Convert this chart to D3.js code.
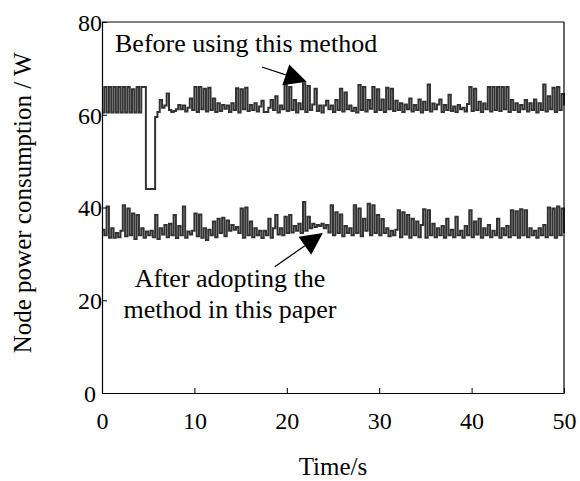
<!DOCTYPE html>
<html>
<head>
<meta charset="utf-8">
<script src="https://cdn.jsdelivr.net/npm/d3@7"></script>
<style>
  body { margin: 0; background: #fff; }
  svg text { font-family: "Liberation Serif", "Times New Roman", serif; fill: #000; }
</style>
</head>
<body>
<div class="chart"></div>
<script>
// sampling step of both series, seconds
var timeStep = 0.25;

// node power before using the method (W), one value per step from t = 0
var beforeValues = [
    60.5, 66, 60.5, 66, 60.5, 66, 60.5, 66, 60.5, 66,
    60.5, 66, 60.5, 65.5, 60.5, 66, 60.5, 66, 66, 44,
    44, 44, 44, 59.5, 60.6, 63.2, 61.5, 62, 64.6, 61,
    60.6, 60.8, 61.2, 62.1, 61.2, 62, 60.7, 61.5, 63.5, 61,
    66, 60.6, 66, 61.2, 65.6, 60.7, 65.8, 61, 63.5, 60.6,
    62.5, 60.8, 62.1, 61.3, 62, 60.6, 62.5, 61, 65.7, 60.5,
    65.5, 61.2, 65.8, 60.8, 62.1, 61, 62.5, 60.7, 61.8, 63,
    60.6, 60.6, 61.5, 63.2, 61, 64, 60.5, 62, 61.2, 66.5,
    60.8, 66, 61, 63.2, 60.5, 62.5, 61.2, 66.8, 60.6, 66.2,
    61, 62.2, 65.6, 60.8, 62, 60.5, 62, 63, 61.2, 62,
    60.6, 63.2, 61, 65.6, 60.7, 64.8, 61.2, 62, 60.8, 61.5,
    60.5, 66.4, 61, 66, 60.7, 63.2, 61.3, 66, 60.6, 65.5,
    61, 63.3, 60.6, 65.8, 61.2, 65.6, 60.8, 63, 61, 62.5,
    60.6, 62.2, 61.2, 63.5, 60.7, 62.1, 61, 63.3, 60.5, 62.8,
    61, 66.5, 60.7, 62.4, 61.2, 62.2, 63.3, 60.6, 62.1, 61,
    64.3, 60.8, 61.8, 60.6, 62.1, 61.2, 61.5, 60.7, 62.3, 66,
    60.8, 65.6, 61, 62.8, 60.6, 62.4, 61.2, 66, 60.7, 66,
    61, 66, 60.8, 66, 61.2, 66, 60.6, 63.2, 61, 62.5,
    60.6, 62.1, 61.2, 63.2, 60.7, 62.5, 61, 63.3, 60.5, 62.5,
    61, 66.5, 60.7, 64, 61.2, 65.8, 60.6, 66, 61, 64.5,
    62
];

// node power after adopting the method (W), same time base
var afterValues = [
    35.2, 34, 40.2, 33.5, 35.5, 33.5, 34.5, 33.6, 35, 40.5,
    33.8, 39.8, 34, 38.7, 33.2, 38.4, 34, 35.5, 33.5, 34.8,
    34, 35, 33.6, 38.4, 33.2, 35.5, 34.2, 36.2, 33.6, 36.5,
    34, 38.4, 33.4, 36, 34, 40.2, 33.5, 34.8, 34.2, 35,
    38.7, 33.8, 38.5, 33.5, 35.5, 33, 35.2, 34, 37, 33.6,
    37.6, 34.5, 37.8, 33.8, 37.2, 35, 36.2, 35.2, 35.8, 34.5,
    39.8, 33.5, 40, 34, 37, 33.6, 35.5, 34, 35, 33.4,
    35, 34, 37.6, 33.5, 35.5, 38.4, 34.2, 35.5, 34, 38,
    34.5, 38.4, 34.6, 36, 35, 36.5, 34.5, 41.2, 35, 38,
    35.5, 36.5, 35.8, 36.2, 36, 36.5, 35.5, 36.2, 34.6, 40.5,
    34, 39, 34.5, 38.5, 33.8, 36, 34.5, 35.5, 34, 40.5,
    34.5, 39.8, 33.8, 37.6, 35, 40.8, 34, 40.5, 34.5, 38.4,
    34, 37.5, 34.5, 35.5, 33.8, 35, 34, 35.2, 39.4, 33.6,
    39, 34.2, 38.4, 33.5, 37.6, 34, 37, 33.6, 36.2, 39.6,
    33.5, 39.4, 34, 36.5, 33.6, 35.5, 34, 36, 33.5, 37.6,
    34, 35.2, 33.6, 38, 34, 35, 33.5, 36, 34, 39.4,
    33.6, 37, 34.2, 37.6, 33.5, 35.5, 34, 36.2, 33.6, 35,
    34, 37.6, 33.5, 35.5, 34, 36, 33.6, 39.4, 34, 39.2,
    33.5, 39.6, 34, 39.4, 33.6, 35.5, 34, 35, 33.5, 35.5,
    34, 36.2, 33.6, 40, 34, 39.8, 33.5, 40.2, 34, 39.8,
    34.5
];

var xTicks = [0, 10, 20, 30, 40, 50];
var yTicks = [0, 20, 40, 60, 80];

var width = 580, height = 481;
var margin = {left: 102, right: 16, top: 22, bottom: 88};
var serif = "Liberation Serif, Times New Roman, serif";

var svg = d3.select(".chart").append("svg").attr("width", width).attr("height", height);

var x = d3.scaleLinear().domain([0, 50]).range([margin.left, width - margin.right]);
var y = d3.scaleLinear().domain([0, 80]).range([height - margin.bottom, margin.top]);

function toPoints(values) {
    return values.map(function (v, i) { return {t: i * timeStep, v: v}; });
}

var line = d3.line()
    .x(function (d) { return x(d.t); })
    .y(function (d) { return y(d.v); })
    .curve(d3.curveStepAfter);

svg.append("path").datum(toPoints(beforeValues)).attr("d", line)
    .attr("fill", "none").attr("stroke", "#333").attr("stroke-width", 2);
svg.append("path").datum(toPoints(afterValues)).attr("d", line)
    .attr("fill", "none").attr("stroke", "#333").attr("stroke-width", 2);

// axes, ticks pointing inwards
var xAxis = svg.append("g").attr("transform", "translate(0," + y(0) + ")")
    .call(d3.axisBottom(x).tickValues(xTicks).tickSizeInner(-5).tickSizeOuter(0).tickPadding(14));
var yAxis = svg.append("g").attr("transform", "translate(" + x(0) + ",0)")
    .call(d3.axisLeft(y).tickValues(yTicks).tickSizeInner(-5).tickSizeOuter(0).tickPadding(12));

[xAxis, yAxis].forEach(function (g) {
    g.attr("font-family", serif).attr("font-size", 24);
    g.select(".domain").attr("stroke", "#000").attr("stroke-width", 1.2);
    g.selectAll(".tick line").attr("stroke", "#000");
    g.selectAll(".tick text").attr("fill", "#000");
});
yAxis.selectAll(".tick text").attr("text-anchor", "middle").attr("dy", "0.35em");
xAxis.selectAll(".tick text").attr("dy", "0.9em");

// top and right of the frame
svg.append("line").attr("x1", x(0)).attr("x2", x(50)).attr("y1", y(80)).attr("y2", y(80))
    .attr("stroke", "#000").attr("stroke-width", 1.2);
svg.append("line").attr("x1", x(50)).attr("x2", x(50)).attr("y1", y(80)).attr("y2", y(0))
    .attr("stroke", "#000").attr("stroke-width", 1.2);

// titles
svg.append("text").attr("x", x(25)).attr("y", 475).attr("text-anchor", "middle")
    .attr("font-size", 25).text("Time/s");
svg.append("text").attr("transform", "translate(31," + y(41) + ") rotate(-90)").attr("text-anchor", "middle")
    .attr("font-size", 25).text("Node power consumption / W");

// annotations with arrows
function arrow(t0, v0, t1, v1) {
    var p0 = [x(t0), y(v0)], p1 = [x(t1), y(v1)];
    var dx = p1[0] - p0[0], dy = p1[1] - p0[1];
    var len = Math.sqrt(dx * dx + dy * dy);
    var ux = dx / len, uy = dy / len;
    var headLen = 22, headHalf = 11;
    var bx = p1[0] - ux * headLen, by = p1[1] - uy * headLen;
    svg.append("line").attr("x1", p0[0]).attr("y1", p0[1]).attr("x2", bx).attr("y2", by)
        .attr("stroke", "#000").attr("stroke-width", 1.2);
    svg.append("path")
        .attr("d", "M" + p1[0] + "," + p1[1] +
            "L" + (bx - uy * headHalf) + "," + (by + ux * headHalf) +
            "L" + (bx + uy * headHalf) + "," + (by - ux * headHalf) + "Z")
        .attr("fill", "#000");
}

svg.append("text").attr("x", 115).attr("y", 52).attr("font-size", 26).text("Before using this method");
arrow(17.3, 70.3, 22.15, 67.1);

svg.append("text").attr("x", 230).attr("y", 287).attr("text-anchor", "middle").attr("font-size", 26).text("After adopting the");
svg.append("text").attr("x", 230).attr("y", 318).attr("text-anchor", "middle").attr("font-size", 26).text("method in this paper");
arrow(18.7, 27.2, 23.9, 34.5);
</script>
</body>
</html>
